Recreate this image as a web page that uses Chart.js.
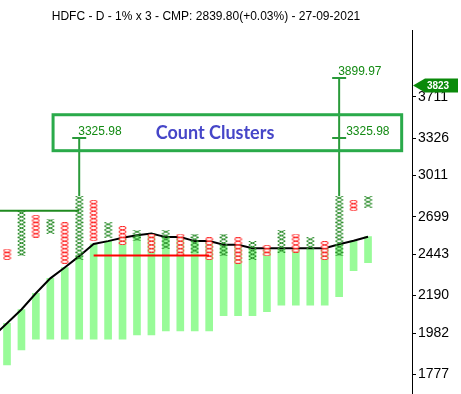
<!DOCTYPE html>
<html>
<head>
<meta charset="utf-8">
<script src="https://cdn.jsdelivr.net/npm/chart.js@4.4.0/dist/chart.umd.min.js"></script>
<style>
  html, body { margin: 0; padding: 0; background: #fff; }
  #wrap { width: 461px; height: 394px; }
</style>
</head>
<body>
<div id="wrap"><canvas id="pnfChart"></canvas></div>
<script>
// P&F columns, box numbers counted from the 2443 level, 1% boxes
const boxBase = 2443;
const boxPct = 0.01;
const colType = ['O','X','O','X','O','X','O','X','O','X','O','X','O','X','O','X','O','X','O','X','O','X','O','X','O','X'];
const colLow  = [-1, 0, 5, 6, -2, -1, 4, 5, 3, 4, 1, 2, 0, 1, -1, 0, -2, -1, 0, 1, 1, 2, -1, 0, 12, 13];
const colHigh = [ 1, 11, 10, 9, 8, 15, 14, 8, 7, 6, 5, 6, 5, 5, 4, 5, 4, 3, 2, 6, 5, 4, 3, 15, 14, 15];

// average line (first value belongs to the column left of the view) and band bottom
const maValues = [1962, 2034, 2110, 2203, 2292, 2359, 2431, 2511, 2530, 2552, 2569, 2581, 2557, 2557,
                  2530, 2530, 2506, 2506, 2482, 2482, 2482, 2482, 2482, 2482, 2509, 2532, 2560];
const bandLow  = [1821, 1895, 1951, 1951, 1951, 1951, 1951, 1951, 1951, 1972, 1972, 1993, 1993, 1993,
                  1993, 2076, 2076, 2076, 2098, 2135, 2135, 2135, 2135, 2183, 2339, 2389];

const yTicks = [3711, 3326, 3011, 2699, 2443, 2190, 1982, 1777];
const tagPrice = 3823;
const titleText = 'HDFC - D - 1% x 3 - CMP: 2839.80(+0.03%) - 27-09-2021';

// annotations
const greenLine = { price: 2743, from: -1, to: 5 };
const redLine = { price: 2435, from: 6, to: 14 };
const countCols = [5, 23];
const countMarks = [
  { col: 5, price: 3325.98, dx: -1 },
  { col: 23, price: 3899.97, dx: -1 },
  { col: 23, price: 3325.98, dx: 7 }
];
const clusterBox = { x0: 3.19, x1: 27.33, top: 3538, bottom: 3216, text: 'Count Clusters' };

const boxPrice = n => boxBase * Math.pow(1 + boxPct, n);

const xPoints = [];
const oPoints = [];
colType.forEach((t, i) => {
  for (let n = colLow[i]; n <= colHigh[i]; n++) {
    (t === 'X' ? xPoints : oPoints).push({ x: i, y: boxPrice(n) });
  }
});

function makeGlyph(kind) {
  const c = document.createElement('canvas');
  c.width = 9;
  c.height = 4;
  const g = c.getContext('2d');
  g.lineWidth = 1;
  if (kind === 'X') {
    g.strokeStyle = '#2a8c2a';
    g.beginPath();
    g.moveTo(0.5, 0); g.lineTo(8.5, 4);
    g.moveTo(0.5, 4); g.lineTo(8.5, 0);
    g.stroke();
  } else {
    g.strokeStyle = '#ff1a1a';
    g.fillStyle = '#fff';
    g.beginPath();
    g.ellipse(4.5, 2, 3.6, 1.6, 0, 0, Math.PI * 2);
    g.fill();
    g.stroke();
  }
  return c;
}

const annotate = {
  id: 'annotate',
  afterDatasetsDraw(chart) {
    const { ctx } = chart;
    const x = chart.scales.x, y = chart.scales.y;
    ctx.save();
    ctx.lineWidth = 2;

    ctx.strokeStyle = '#1f8a1f';
    ctx.beginPath();
    ctx.moveTo(x.getPixelForValue(greenLine.from), y.getPixelForValue(greenLine.price));
    ctx.lineTo(x.getPixelForValue(greenLine.to), y.getPixelForValue(greenLine.price));
    ctx.stroke();

    ctx.strokeStyle = '#ff0000';
    ctx.beginPath();
    ctx.moveTo(x.getPixelForValue(redLine.from), y.getPixelForValue(redLine.price));
    ctx.lineTo(x.getPixelForValue(redLine.to), y.getPixelForValue(redLine.price));
    ctx.stroke();

    // vertical counts
    ctx.strokeStyle = '#2a9a3a';
    countCols.forEach(col => {
      const px = x.getPixelForValue(col);
      const targets = countMarks.filter(m => m.col === col).map(m => m.price);
      const from = y.getPixelForValue(boxPrice(colHigh[col] + 0.5));
      const to = y.getPixelForValue(Math.max(...targets));
      ctx.beginPath();
      ctx.moveTo(px, from);
      ctx.lineTo(px, to);
      ctx.stroke();
    });
    ctx.font = '12px "Liberation Sans", Arial, sans-serif';
    ctx.fillStyle = '#138a13';
    ctx.textBaseline = 'alphabetic';
    ctx.textAlign = 'left';
    countMarks.forEach(m => {
      const px = x.getPixelForValue(m.col);
      const py = y.getPixelForValue(m.price);
      ctx.beginPath();
      ctx.moveTo(px - 7, py);
      ctx.lineTo(px + 7, py);
      ctx.stroke();
      ctx.fillText(m.price.toFixed(2), px + m.dx, py - 3);
    });

    // cluster box
    const bx0 = x.getPixelForValue(clusterBox.x0), bx1 = x.getPixelForValue(clusterBox.x1);
    const by0 = y.getPixelForValue(clusterBox.top), by1 = y.getPixelForValue(clusterBox.bottom);
    ctx.lineWidth = 3;
    ctx.strokeStyle = '#2aaa4a';
    ctx.strokeRect(bx0, by0, bx1 - bx0, by1 - by0);
    ctx.font = 'bold 18px Lato, sans-serif';
    ctx.fillStyle = '#4646c8';
    ctx.textAlign = 'center';
    ctx.textBaseline = 'middle';
    ctx.fillText(clusterBox.text, 215, (by0 + by1) / 2);
    ctx.restore();
  },
  afterDraw(chart) {
    const { ctx, chartArea } = chart;
    const ty = chart.scales.y.getPixelForValue(tagPrice);
    const left = chartArea.right + 1;
    ctx.save();
    ctx.fillStyle = '#0a8a0a';
    ctx.beginPath();
    ctx.moveTo(left, ty);
    ctx.lineTo(left + 12, ty - 7);
    ctx.lineTo(left + 45, ty - 7);
    ctx.lineTo(left + 45, ty + 7);
    ctx.lineTo(left + 12, ty + 7);
    ctx.closePath();
    ctx.fill();
    ctx.font = 'bold 10px "Liberation Sans", Arial, sans-serif';
    ctx.fillStyle = '#fff';
    ctx.textAlign = 'center';
    ctx.textBaseline = 'middle';
    ctx.fillText(String(tagPrice), left + 25, ty + 1);
    ctx.restore();
  }
};

new Chart(document.getElementById('pnfChart'), {
  type: 'bar',
  data: {
    datasets: [
      {
        type: 'scatter',
        data: xPoints,
        pointStyle: makeGlyph('X'),
        order: 0
      },
      {
        type: 'scatter',
        data: oPoints,
        pointStyle: makeGlyph('O'),
        order: 0
      },
      {
        type: 'line',
        data: maValues.map((v, i) => ({ x: i - 1, y: v })),
        borderColor: '#000',
        borderWidth: 2,
        pointRadius: 0,
        tension: 0,
        order: 1
      },
      {
        type: 'bar',
        data: bandLow.map((v, i) => ({ x: i, y: [v, maValues[i + 1]] })),
        backgroundColor: '#98fb98',
        borderWidth: 0,
        barThickness: 7,
        order: 2
      }
    ]
  },
  options: {
    responsive: true,
    maintainAspectRatio: false,
    animation: false,
    layout: { padding: 0, autoPadding: false },
    plugins: {
      legend: { display: false },
      tooltip: { enabled: false },
      title: {
        display: true,
        text: titleText,
        fullSize: false,
        color: '#000',
        font: { family: '"Liberation Sans", Arial, sans-serif', size: 12, weight: 'normal' },
        padding: { top: 9, bottom: 7 }
      }
    },
    scales: {
      x: {
        type: 'linear',
        min: -0.485,
        max: 28.045,
        offset: false,
        display: false
      },
      y: {
        type: 'logarithmic',
        position: 'right',
        min: 1686.3,
        max: 4425.3,
        afterBuildTicks: ax => { ax.ticks = yTicks.map(v => ({ value: v })); },
        afterFit: ax => {
          ax.width = 49;
          ax.paddingTop = 0;
          ax.paddingBottom = 0;
        },
        ticks: {
          callback: v => String(v),
          autoSkip: false,
          padding: 2,
          color: '#000',
          font: { family: '"Liberation Sans", Arial, sans-serif', size: 14 }
        },
        grid: { drawOnChartArea: false, drawTicks: true, tickLength: 4, color: '#000' },
        border: { display: true, color: '#000', dash: [1, 1] }
      }
    }
  },
  plugins: [annotate]
});
</script>
</body>
</html>
